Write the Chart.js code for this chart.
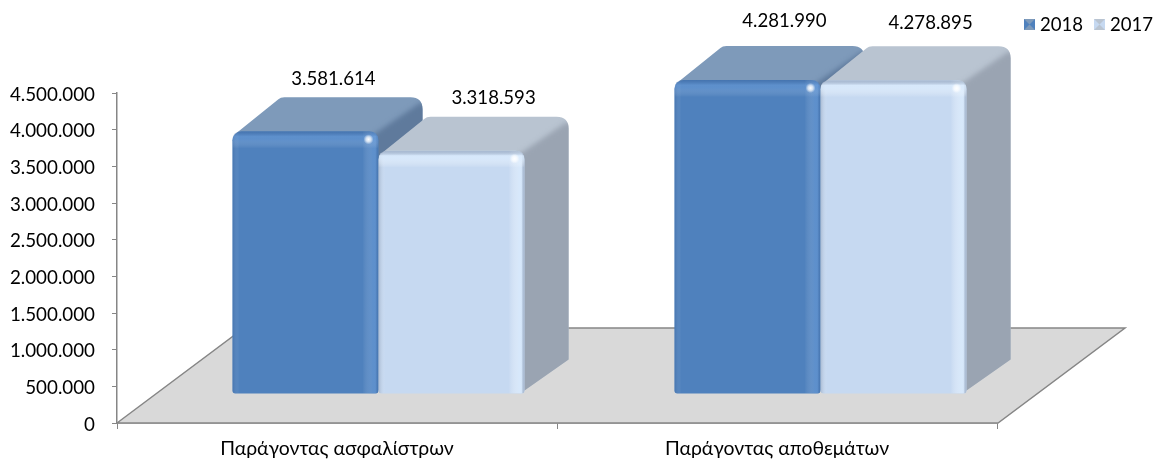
<!DOCTYPE html>
<html><head><meta charset="utf-8">
<style>html,body{margin:0;padding:0;background:#fff}canvas{display:block}</style>
<script src="https://cdn.jsdelivr.net/npm/chart.js@4"></script>
</head><body><canvas id="c" width="1154" height="459"></canvas>
<script>
const categories = ["Παράγοντας ασφαλίστρων", "Παράγοντας αποθεμάτων"];
const seriesNames = ["2018", "2017"];
const values2018 = [3581614, 4281990];
const values2017 = [3318593, 4278895];
const yTickStep = 500000;
const yMax = 4500000;

const FONT = 'Lato, "Open Sans", sans-serif';
const fmt = v => String(v).replace(/\B(?=(\d{3})+(?!\d))/g, '.');

// appearance of the pseudo-3D extrusion
const DEPTH = {x: 44, y: 34};
const FLOOR = {x: 127, y: 95};
const PLANE = {x: [41.5, 43.5], y: -29};
const LABEL_NUDGE = [[[28, -52], [42, -53]], [[37, -59], [37, -57]]]; // [category][series]
const LOOK = [
  {front: '#4f81bd', top: '#7e9aba', side: '#5f7a9c', edgeDark: 'rgba(35,70,125,0.22)', edgeLight: 'rgba(125,175,235,0.32)'},
  {front: '#c6d9f1', top: '#b9c4d1', side: '#9aa4b2', edgeDark: 'rgba(100,115,140,0.3)', edgeLight: 'rgba(222,238,255,0.7)'}
];

function roundedPath(ctx, x0, y0, x1, y1, r, rb) {
  ctx.beginPath();
  ctx.moveTo(x0 + r, y0);
  ctx.lineTo(x1 - r, y0);
  ctx.quadraticCurveTo(x1, y0, x1, y0 + r);
  ctx.lineTo(x1, y1 - rb);
  ctx.quadraticCurveTo(x1, y1, x1 - rb, y1);
  ctx.lineTo(x0 + rb, y1);
  ctx.quadraticCurveTo(x0, y1, x0, y1 - rb);
  ctx.lineTo(x0, y0 + r);
  ctx.quadraticCurveTo(x0, y0, x0 + r, y0);
  ctx.closePath();
}

function drawExtrusion(ctx, el, look) {
  const x0 = el.x - el.width / 2, x1 = el.x + el.width / 2, y0 = el.y, yb = el.base;
  const r = 12, top = y0 - DEPTH.y, right = x1 + DEPTH.x;
  ctx.save();
  // silhouette of top + side faces
  ctx.beginPath();
  ctx.moveTo(x0 + 5, y0 + 8);
  ctx.lineTo(x0 + 5, y0 + 1);
  ctx.lineTo(x0 + 46, top + 2);
  ctx.quadraticCurveTo(x0 + 48, top, x0 + 52, top);
  ctx.lineTo(right - r, top);
  ctx.quadraticCurveTo(right, top, right, top + r);
  ctx.lineTo(right, yb - DEPTH.y);
  ctx.lineTo(x1 - 3, yb - 1);
  ctx.lineTo(x1 - 3, y0 + 8);
  ctx.closePath();
  ctx.fillStyle = look.top;
  ctx.fill();
  ctx.clip();
  // side face, soft mitre against the top face
  ctx.filter = 'blur(2.5px)';
  ctx.beginPath();
  ctx.moveTo(x1 - 6, y0 + 4);
  ctx.lineTo(right - 3, top + 6);
  ctx.lineTo(right + 20, top + 6);
  ctx.lineTo(right + 20, yb);
  ctx.lineTo(x1 - 6, yb + 8);
  ctx.closePath();
  ctx.fillStyle = look.side;
  ctx.fill();
  ctx.filter = 'none';
  ctx.restore();
}

function drawBevel(ctx, el, look) {
  const x0 = el.x - el.width / 2, x1 = el.x + el.width / 2, y0 = el.y, yb = el.base;
  ctx.save();
  roundedPath(ctx, x0, y0, x1, yb, 9, 3);
  ctx.clip();
  let g = ctx.createLinearGradient(x0, 0, x0 + 7, 0);
  g.addColorStop(0, look.edgeDark);
  g.addColorStop(1, 'rgba(255,255,255,0)');
  ctx.fillStyle = g; ctx.fillRect(x0, y0, 7, yb - y0);
  g = ctx.createLinearGradient(x1 - 16, 0, x1, 0);
  g.addColorStop(0, 'rgba(255,255,255,0)');
  g.addColorStop(0.65, look.edgeLight);
  g.addColorStop(0.8, look.edgeLight);
  g.addColorStop(1, look.edgeDark);
  ctx.fillStyle = g; ctx.fillRect(x1 - 16, y0, 16, yb - y0);
  g = ctx.createLinearGradient(0, y0, 0, y0 + 17);
  g.addColorStop(0, look.edgeDark);
  g.addColorStop(0.3, look.edgeLight);
  g.addColorStop(0.45, look.edgeLight);
  g.addColorStop(1, 'rgba(255,255,255,0)');
  ctx.fillStyle = g; ctx.fillRect(x0, y0, x1 - x0, 17);
  g = ctx.createRadialGradient(x1 - 10, y0 + 8, 0, x1 - 10, y0 + 8, 5);
  g.addColorStop(0, 'rgba(255,255,255,1)');
  g.addColorStop(0.5, 'rgba(255,255,255,0.7)');
  g.addColorStop(1, 'rgba(255,255,255,0)');
  ctx.fillStyle = g; ctx.fillRect(x1 - 16, y0 + 2, 12, 12);
  ctx.restore();
}

function legendIcon(ctx, x, y, s, look) {
  ctx.fillStyle = look.front;
  ctx.fillRect(x, y, s, s);
  ctx.fillStyle = look.top;
  ctx.beginPath(); ctx.moveTo(x, y); ctx.lineTo(x + s, y); ctx.lineTo(x + s / 2, y + s / 2); ctx.closePath(); ctx.fill();
  ctx.beginPath(); ctx.moveTo(x, y + s); ctx.lineTo(x + s, y + s); ctx.lineTo(x + s / 2, y + s / 2); ctx.closePath(); ctx.fill();
}

const faux3d = {
  id: 'faux3d',
  beforeDatasetsDraw(chart) {
    const ctx = chart.ctx, xs = chart.scales.x, ys = chart.scales.y;
    const L = xs.left, R = xs.right, B = ys.bottom;
    ctx.save();
    ctx.beginPath();
    ctx.moveTo(L, B); ctx.lineTo(L + FLOOR.x, B - FLOOR.y); ctx.lineTo(R + FLOOR.x + 1, B - FLOOR.y); ctx.lineTo(R + 1, B);
    ctx.closePath();
    ctx.fillStyle = '#d9d9d9'; ctx.fill();
    ctx.strokeStyle = '#868686'; ctx.lineWidth = 1.5; ctx.stroke();
    categories.forEach((_, i) => {
      chart.data.datasets.forEach((ds, d) => {
        const el = chart.getDatasetMeta(d).data[i], look = LOOK[d];
        ctx.save();
        ctx.translate(PLANE.x[i], PLANE.y);
        drawExtrusion(ctx, el, look);
        el.draw(ctx, chart.chartArea);
        drawBevel(ctx, el, look);
        ctx.restore();
      });
    });
    // value labels
    ctx.fillStyle = '#000';
    ctx.font = '18.6px ' + FONT;
    ctx.textAlign = 'center'; ctx.textBaseline = 'middle';
    categories.forEach((_, i) => {
      chart.data.datasets.forEach((ds, d) => {
        const el = chart.getDatasetMeta(d).data[i], n = LABEL_NUDGE[i][d];
        ctx.fillText(fmt(ds.data[i]), el.x + PLANE.x[i] + n[0], el.y + PLANE.y + n[1]);
      });
    });
    // legend
    ctx.textAlign = 'left';
    const legendX = [1024, 1094];
    chart.data.datasets.forEach((ds, d) => {
      legendIcon(ctx, legendX[d], 19, 11, LOOK[d]);
      ctx.fillStyle = '#000';
      ctx.fillText(ds.label, legendX[d] + 16, 24.5);
    });
    ctx.restore();
    return false;
  }
};

// nudges the tick text of a scale a little down, to sit as in the reference
function shiftLabels(scale, dy) {
  if (scale._shifted) return;
  scale._shifted = true;
  const orig = scale.drawLabels;
  scale.drawLabels = function (area) {
    const c = this.ctx;
    c.save(); c.translate(0, dy);
    orig.call(this, area);
    c.restore();
  };
}

new Chart(document.getElementById('c'), {
  type: 'bar',
  data: {
    labels: categories,
    datasets: [
      {label: seriesNames[0], data: values2018, backgroundColor: LOOK[0].front},
      {label: seriesNames[1], data: values2017, backgroundColor: LOOK[1].front}
    ]
  },
  options: {
    responsive: false,
    animation: false,
    layout: {padding: {top: 93, right: 157, left: 0, bottom: 0}},
    datasets: {bar: {
      categoryPercentage: 0.664, barPercentage: 1,
      borderSkipped: false,
      borderRadius: {topLeft: 9, topRight: 9, bottomLeft: 3, bottomRight: 3}
    }},
    plugins: {legend: {display: false}, tooltip: {enabled: false}},
    scales: {
      x: {
        afterFit(s) { s.height = 36; },
        grid: {offset: true, drawOnChartArea: false, color: '#868686', tickLength: 6, lineWidth: 1},
        border: {color: '#868686', width: 1.5},
        ticks: {color: '#000', font: {family: FONT, size: 19.4}, padding: 8, maxRotation: 0, autoSkip: false}
      },
      y: {
        min: 0, max: yMax,
        afterFit(s) { s.width = 117; shiftLabels(s, 1.5); },
        grid: {drawOnChartArea: false, color: '#868686', tickLength: 5},
        border: {color: '#868686', width: 1.5},
        ticks: {color: '#000', stepSize: yTickStep, font: {family: FONT, size: 18.8}, padding: 17, callback: v => fmt(v)}
      }
    }
  },
  plugins: [faux3d]
});
</script></body></html>
